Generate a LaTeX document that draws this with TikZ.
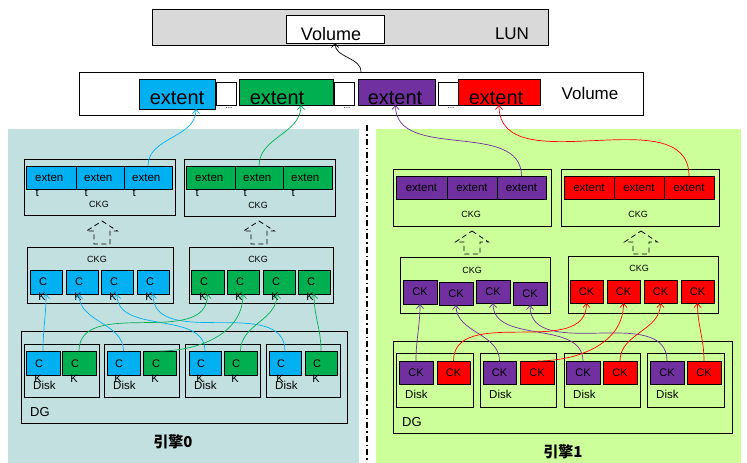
\documentclass[tikz,border=0pt]{standalone}
\usepackage{fontspec}
\setmainfont{Liberation Sans}
\newfontfamily\cjkfont{Noto Sans CJK SC}
\usetikzlibrary{arrows.meta}

\definecolor{extblue}{HTML}{00B0F0}
\definecolor{extgreen}{HTML}{00B050}
\definecolor{extpurple}{HTML}{7030A0}
\definecolor{extred}{HTML}{FF0000}
\definecolor{lunfill}{HTML}{D9D9D9}
\definecolor{engineA}{HTML}{C3E0E0}
\definecolor{engineB}{HTML}{CCFF99}

\newcommand\fsz[1]{\fontsize{#1}{#1}\selectfont}

% rectangle node given by its corners: [style]{name}{x1}{y1}{x2}{y2}{text}
\newcommand\rectnode[7][]{%
  \pgfmathsetmacro\rcx{(#3+#5)/2}%
  \pgfmathsetmacro\rcy{(#4+#6)/2}%
  \pgfmathsetmacro\rcw{#5-#3}%
  \pgfmathsetmacro\rch{#6-#4}%
  \node[frame,minimum width=\rcw pt,minimum height=\rch pt,#1] (#2) at (\rcx,\rcy) {#7};}

% wrapped chunk label "exten / t": {name}{x}{baseline}
\newcommand\wrapext[3]{%
  \node[lbl,anchor=base west,font=\fsz{11.5}] (#1a) at (#2,#3) {exten};
  \node[lbl,anchor=base west,font=\fsz{11.5}] (#1b) at (#2+0.5,#3+15) {t};}

% wrapped chunk label "C / K": {name}{x}{baseline}
\newcommand\wrapck[3]{%
  \node[lbl,font=\fsz{11}] (#1a) at (#2,#3) {C};
  \node[lbl,font=\fsz{11}] (#1b) at (#2-1,#3+15) {K};}

% hollow dashed up arrow: {cx}{tip}{head base}{bottom}{head half width}
\newcommand\hollowup[5]{%
  \draw[uparrow] (#1,#2) -- (#1+#5,#3) -- (#1+8,#3) -- (#1+8,#4)
    -- (#1-8,#4) -- (#1-8,#3) -- (#1-#5,#3) -- cycle;}

\tikzset{
  frame/.style={draw=black,line width=0.8pt,rectangle,inner sep=0pt,outer sep=0pt},
  lbl/.style={inner sep=0pt,anchor=base},
  link/.style={line width=0.7pt,-{Straight Barb[length=4pt,width=7pt]}},
  uparrow/.style={line width=0.8pt,dash pattern=on 5pt off 3.5pt},
  chunk/.style={font=\fsz{11.5}},
  ckcell/.style={font=\fsz{11}},
}

\begin{document}
\begin{tikzpicture}[x=1pt,y=-1pt]
\useasboundingbox (0,0) rectangle (747,463);

% engine backgrounds and divider
\fill[engineA] (8,129) rectangle (359,463);
\fill[engineB] (376,129) rectangle (741,463);
\draw[line width=1.8pt,dash pattern=on 6pt off 3pt on 1.5pt off 3pt] (367,125) -- (367,463);

% LUN
\rectnode[fill=lunfill]{lun}{152}{9}{548}{45}{}
\rectnode[fill=white]{lunvol}{286}{15}{384}{43}{}
\node[lbl,font=\fsz{18}] (lunvoltxt) at (331,40) {Volume};
\node[lbl,font=\fsz{17}] (luntxt) at (512,39) {LUN};

% volume with its extents
\rectnode[fill=white]{vol}{79}{72}{643}{115}{}
\rectnode[fill=white]{gap1}{216}{82}{236}{105}{}
\rectnode[fill=white]{gap2}{334}{82}{354}{105}{}
\rectnode[fill=white]{gap3}{438}{82}{458}{105}{}
\node[lbl,font=\fsz{8}] (dots1) at (229,108) {...};
\node[lbl,font=\fsz{8}] (dots2) at (347,108) {...};
\node[lbl,font=\fsz{8}] (dots3) at (451,108) {...};
\rectnode[fill=extblue]{ext1}{139}{79}{215}{109}{}
\rectnode[fill=extgreen]{ext2}{239}{79}{333}{105}{}
\rectnode[fill=extpurple]{ext3}{358}{79}{435}{105}{}
\rectnode[fill=extred]{ext4}{458}{79}{540}{105}{}
\node[lbl,font=\fsz{20}] (ext1t) at (177,104) {extent};
\node[lbl,font=\fsz{20}] (ext2t) at (277,104) {extent};
\node[lbl,font=\fsz{20}] (ext3t) at (395,104) {extent};
\node[lbl,font=\fsz{20}] (ext4t) at (496,104) {extent};
\node[lbl,font=\fsz{17}] (voltxt) at (590,99) {Volume};

% ---------- engine 0 ----------
% extent-level CKGs
\rectnode{ckgA}{24}{159}{175}{215}{}
\rectnode[fill=extblue]{tA1}{26}{166}{76}{189}{}
\rectnode[fill=extblue]{tA2}{76}{166}{124}{189}{}
\rectnode[fill=extblue]{tA3}{124}{166}{172}{189}{}
\wrapext{tA1t}{35}{181}
\wrapext{tA2t}{84}{181}
\wrapext{tA3t}{132}{181}
\node[lbl,font=\fsz{9}] (ckgAt) at (99,207) {CKG};

\rectnode{ckgB}{184}{159}{335}{216}{}
\rectnode[fill=extgreen]{tB1}{186}{166}{235}{189}{}
\rectnode[fill=extgreen]{tB2}{235}{166}{283}{189}{}
\rectnode[fill=extgreen]{tB3}{283}{166}{332}{189}{}
\wrapext{tB1t}{195}{181}
\wrapext{tB2t}{243}{181}
\wrapext{tB3t}{291}{181}
\node[lbl,font=\fsz{9}] (ckgBt) at (258,208) {CKG};

\hollowup{102}{221}{231}{244}{15.5}
\hollowup{259}{221}{231}{244}{15.5}

% chunk-level CKGs
\rectnode{ckgC}{27}{247}{173}{303}{}
\node[lbl,font=\fsz{9}] (ckgCt) at (97,262) {CKG};
\rectnode[fill=extblue]{lA1}{30}{270}{62}{294}{}
\rectnode[fill=extblue]{lA2}{66}{270}{98}{294}{}
\rectnode[fill=extblue]{lA3}{101}{270}{133}{294}{}
\rectnode[fill=extblue]{lA4}{137}{270}{169}{294}{}
\wrapck{lA1t}{43}{285}
\wrapck{lA2t}{79}{285}
\wrapck{lA3t}{114}{285}
\wrapck{lA4t}{150}{285}

\rectnode{ckgD}{189}{247}{333}{303}{}
\node[lbl,font=\fsz{9}] (ckgDt) at (258,262) {CKG};
\rectnode[fill=extgreen]{lB1}{191}{270}{224}{294}{}
\rectnode[fill=extgreen]{lB2}{227}{270}{259}{294}{}
\rectnode[fill=extgreen]{lB3}{263}{270}{295}{294}{}
\rectnode[fill=extgreen]{lB4}{298}{270}{330}{294}{}
\wrapck{lB1t}{204}{285}
\wrapck{lB2t}{240}{285}
\wrapck{lB3t}{276}{285}
\wrapck{lB4t}{311}{285}

% disk group
\rectnode{dgA}{21}{331}{347}{423}{}
\node[lbl,anchor=base west,font=\fsz{13}] (dgAt) at (30,416) {DG};
\rectnode{diskA1}{24}{344}{99}{397}{}
\rectnode{diskA2}{104}{344}{179}{397}{}
\rectnode{diskA3}{185}{344}{260}{397}{}
\rectnode{diskA4}{266}{344}{340}{397}{}
\rectnode[fill=extblue]{dA1b}{26}{351}{60}{375}{}
\rectnode[fill=extgreen]{dA1g}{62}{351}{96}{375}{}
\rectnode[fill=extblue]{dA2b}{107}{351}{140}{375}{}
\rectnode[fill=extgreen]{dA2g}{143}{351}{176}{375}{}
\rectnode[fill=extblue]{dA3b}{189}{351}{221}{375}{}
\rectnode[fill=extgreen]{dA3g}{224}{351}{257}{375}{}
\rectnode[fill=extblue]{dA4b}{269}{351}{301}{375}{}
\rectnode[fill=extgreen]{dA4g}{305}{351}{337}{375}{}
\wrapck{dA1bt}{39}{367}
\wrapck{dA1gt}{75}{367}
\wrapck{dA2bt}{119}{367}
\wrapck{dA2gt}{156}{367}
\wrapck{dA3bt}{201}{367}
\wrapck{dA3gt}{236}{367}
\wrapck{dA4bt}{281}{367}
\wrapck{dA4gt}{317}{367}
\node[lbl,anchor=base west,font=\fsz{11.5}] (diskA1t) at (33,389) {Disk};
\node[lbl,anchor=base west,font=\fsz{11.5}] (diskA2t) at (113,389) {Disk};
\node[lbl,anchor=base west,font=\fsz{11.5}] (diskA3t) at (194,389) {Disk};
\node[lbl,anchor=base west,font=\fsz{11.5}] (diskA4t) at (275,389) {Disk};
\node[lbl,font=\cjkfont\bfseries\fsz{15}] (engA) at (173,447) {引擎0};

% ---------- engine 1 ----------
\rectnode{ckgE}{393}{169}{551}{226}{}
\rectnode[fill=extpurple,chunk]{rtA1}{396}{176}{447}{199}{extent}
\rectnode[fill=extpurple,chunk]{rtA2}{447}{176}{497}{199}{extent}
\rectnode[fill=extpurple,chunk]{rtA3}{497}{176}{546}{199}{extent}
\node[lbl,font=\fsz{9}] (ckgEt) at (471,217) {CKG};

\rectnode{ckgF}{561}{169}{719}{226}{}
\rectnode[fill=extred,chunk]{rtB1}{564}{176}{614}{199}{extent}
\rectnode[fill=extred,chunk]{rtB2}{614}{176}{664}{199}{extent}
\rectnode[fill=extred,chunk]{rtB3}{664}{176}{714}{199}{extent}
\node[lbl,font=\fsz{9}] (ckgFt) at (638,217) {CKG};

\hollowup{472}{231}{242}{254}{16.5}
\hollowup{641}{231}{242}{254}{16.5}

\rectnode{ckgG}{400}{257}{550}{313}{}
\node[lbl,font=\fsz{9}] (ckgGt) at (472,273) {CKG};
\rectnode[fill=extpurple,ckcell]{rA1}{403}{280}{437}{304}{CK}
\rectnode[fill=extpurple,ckcell]{rA2}{439}{282}{473}{305}{CK}
\rectnode[fill=extpurple,ckcell]{rA3}{476}{280}{510}{303}{CK}
\rectnode[fill=extpurple,ckcell]{rA4}{513}{282}{547}{305}{CK}

\rectnode{ckgH}{568}{256}{718}{313}{}
\node[lbl,font=\fsz{9}] (ckgHt) at (639,271) {CKG};
\rectnode[fill=extred,ckcell]{rB1}{570}{280}{603}{303}{CK}
\rectnode[fill=extred,ckcell]{rB2}{607}{280}{640}{303}{CK}
\rectnode[fill=extred,ckcell]{rB3}{644}{280}{677}{303}{CK}
\rectnode[fill=extred,ckcell]{rB4}{681}{280}{714}{303}{CK}

\rectnode{dgB}{393}{341}{732}{433}{}
\node[lbl,anchor=base west,font=\fsz{13}] (dgBt) at (402,426) {DG};
\rectnode{diskB1}{396}{353}{473}{407}{}
\rectnode{diskB2}{480}{353}{556}{407}{}
\rectnode{diskB3}{564}{353}{640}{407}{}
\rectnode{diskB4}{647}{353}{724}{407}{}
\rectnode[fill=extpurple,ckcell]{dB1p}{399}{361}{433}{384}{CK}
\rectnode[fill=extred,ckcell]{dB1r}{437}{361}{470}{384}{CK}
\rectnode[fill=extpurple,ckcell]{dB2p}{483}{361}{516}{384}{CK}
\rectnode[fill=extred,ckcell]{dB2r}{520}{361}{554}{384}{CK}
\rectnode[fill=extpurple,ckcell]{dB3p}{566}{361}{600}{384}{CK}
\rectnode[fill=extred,ckcell]{dB3r}{603}{361}{637}{384}{CK}
\rectnode[fill=extpurple,ckcell]{dB4p}{650}{361}{684}{384}{CK}
\rectnode[fill=extred,ckcell]{dB4r}{687}{361}{721}{384}{CK}
\node[lbl,anchor=base west,font=\fsz{11.5}] (diskB1t) at (405,398) {Disk};
\node[lbl,anchor=base west,font=\fsz{11.5}] (diskB2t) at (489,398) {Disk};
\node[lbl,anchor=base west,font=\fsz{11.5}] (diskB3t) at (573,398) {Disk};
\node[lbl,anchor=base west,font=\fsz{11.5}] (diskB4t) at (656,398) {Disk};
\node[lbl,font=\cjkfont\bfseries\fsz{15}] (engB) at (563,457) {引擎1};

% ---------- connectors ----------
\draw[link,black] (vol.north) to[out=90,in=-90] (lunvol.south);
\draw[link,extblue] (tA3.north) to[out=90,in=-90] ([xshift=19pt]ext1.south);
\draw[link,extgreen] (tB2.north) to[out=90,in=-90] ([xshift=15pt]ext2.south);
\draw[link,extpurple] (rtA3.north) to[out=90,in=-90] ([xshift=-1pt]ext3.south);
\draw[link,extred] (rtB3.north) to[out=90,in=-90] (ext4.south);

\draw[link,extblue] (dA1b.north) to[out=90,in=-90] (lA1.south);
\draw[link,extblue] (dA2b.north) to[out=90,in=-90] ([xshift=-3pt]lA2.south);
\draw[link,extblue] (dA3b.north) to[out=90,in=-90] (lA3.south);
\draw[link,extblue] (dA4b.north) to[out=90,in=-90] (lA4.south);
\draw[link,extgreen] (dA1g.north) to[out=90,in=-90] (lB1.south);
\draw[link,extgreen] (dA2g.north) to[out=0,in=-90] (lB2.south);
\draw[link,extgreen] (dA3g.north) to[out=90,in=-90] ([xshift=-2pt]lB3.south);
\draw[link,extgreen] (dA4g.north) to[out=90,in=-90] (lB4.south);

\draw[link,extpurple] (dB1p.north) to[out=90,in=-90] (rA1.south);
\draw[link,extpurple] (dB2p.north) to[out=90,in=-90] (rA2.south);
\draw[link,extpurple] (dB3p.north) to[out=90,in=-90] (rA3.south);
\draw[link,extpurple] (dB4p.north) to[out=90,in=-90] (rA4.south);
\draw[link,extred] (dB1r.north) to[out=90,in=-90] (rB1.south);
\draw[link,extred] (dB2r.north) to[out=0,in=-90] (rB2.south);
\draw[link,extred] (dB3r.north) to[out=90,in=-90] (rB3.south);
\draw[link,extred] (dB4r.north) to[out=90,in=-90] (rB4.south);
\end{tikzpicture}
\end{document}
